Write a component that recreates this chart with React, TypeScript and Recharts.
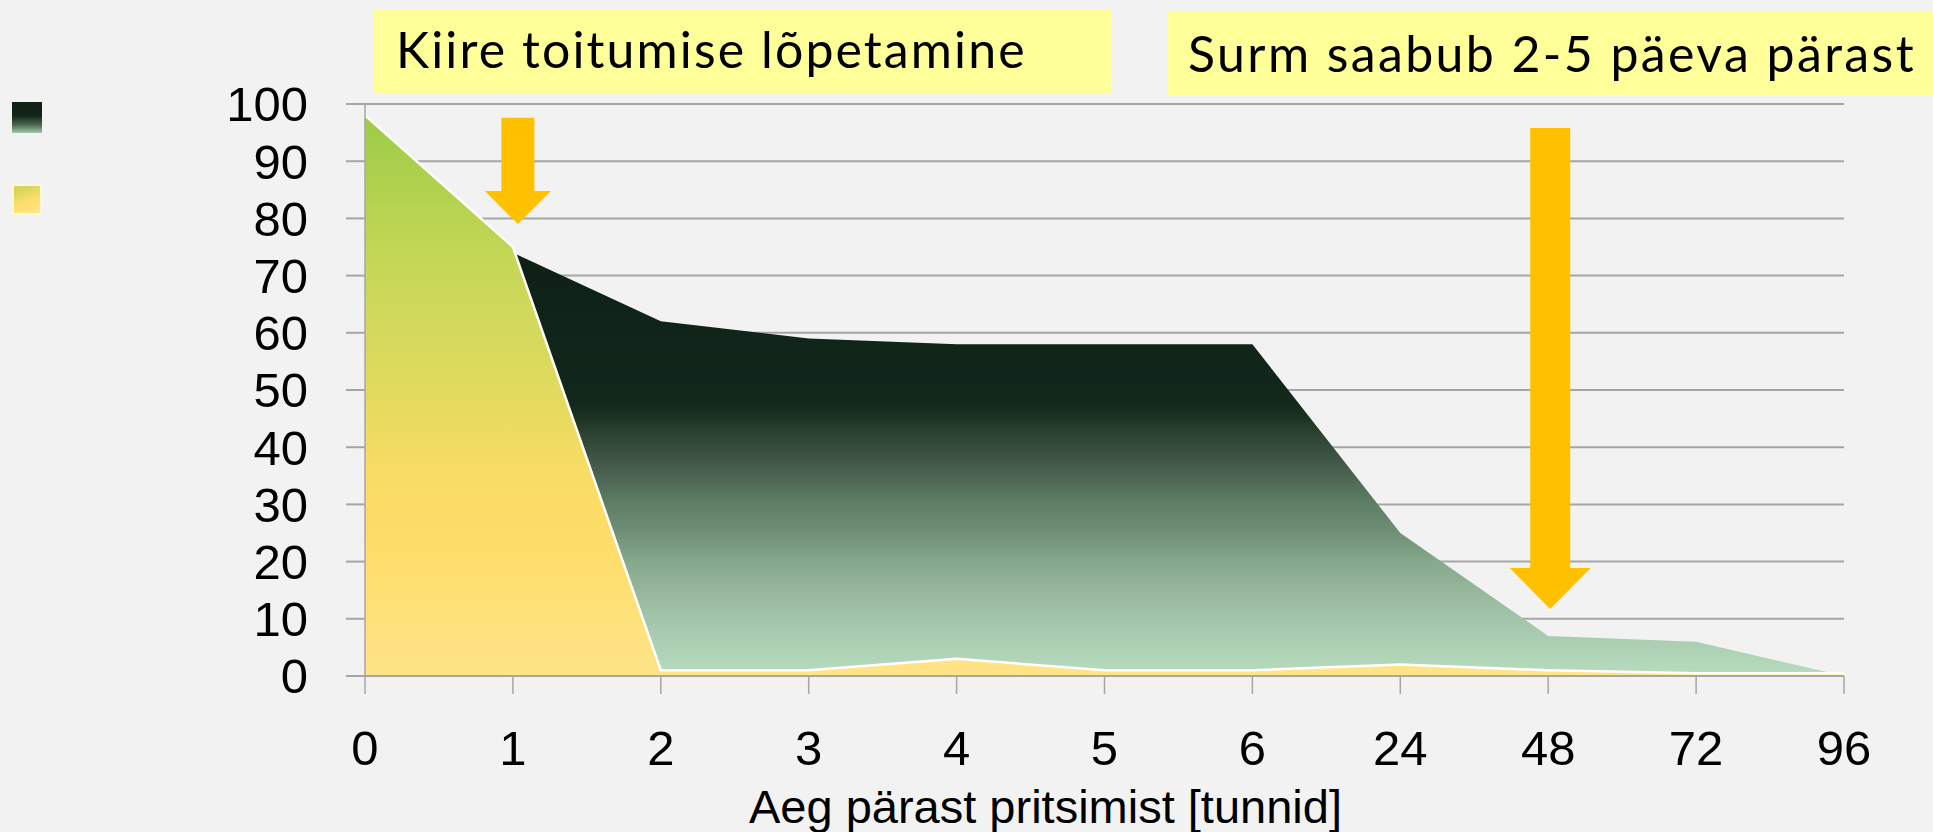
import React from "react";
import { AreaChart, Area, XAxis, YAxis, CartesianGrid, ReferenceLine } from "recharts";

// hours after spraying (category axis, evenly spaced)
const hours = ["0", "1", "2", "3", "4", "5", "6", "24", "48", "72", "96"];
// dark green series (upper area)
const darkShare = [0, 74, 62, 59, 58, 58, 58, 25, 7, 6, 0];
// yellow-green series (front area)
const feedingShare = [98, 75, 1, 1, 3, 1, 1, 2, 1, 0.5, 0.5];
const yTicks = [0, 10, 20, 30, 40, 50, 60, 70, 80, 90, 100];

const axisTitle = "Aeg pärast pritsimist [tunnid]";
const noteStop = "Kiire toitumise lõpetamine";
const noteDeath = "Surm saabub 2-5 päeva pärast";

// arrows: [hour, from value, to value]
const arrowStop = { hour: "1", from: 97.6, to: 79 };
const arrowDeath = { hour: "48", from: 95.8, to: 11.7 };

const GRID = "#a6a6a6";
const ORANGE = "#FFC000";

const rows = hours.map((h, i) => ({
  hour: h,
  dark: darkShare[i],
  feeding: feedingShare[i],
}));

const Arrow = (props: any) => {
  const { x1, y1, y2, shaft, head, headLen, shift = 0 } = props;
  if (x1 == null || y1 == null || y2 == null) return null;
  const x = x1 + shift;
  const neck = y2 - headLen;
  const pts = [
    [x - shaft / 2, y1],
    [x + shaft / 2, y1],
    [x + shaft / 2, neck],
    [x + head / 2, neck],
    [x, y2],
    [x - head / 2, neck],
    [x - shaft / 2, neck],
  ]
    .map((p) => p.join(","))
    .join(" ");
  return <polygon points={pts} fill={ORANGE} />;
};

const AxisTitle = ({ viewBox }: any) => {
  if (!viewBox) return null;
  return (
    <text
      x={viewBox.x + viewBox.width / 2 - 59}
      y={viewBox.y + viewBox.height - 9}
      textAnchor="middle"
      fontFamily="'Liberation Sans', Arial, sans-serif"
      fontSize={47}
      fill="#000"
    >
      {axisTitle}
    </text>
  );
};

const noteStyle: React.CSSProperties = {
  position: "absolute",
  background: "#FFFF99",
  height: 84,
  boxSizing: "border-box",
  fontFamily: "Lato, 'Open Sans', sans-serif",
  fontWeight: 400,
  fontSize: 50,
  lineHeight: "50px",
  color: "#000",
  whiteSpace: "nowrap",
};

export default function App() {
  const tickFont = { fill: "#000", fontSize: 49, fontFamily: "'Liberation Sans', Arial, sans-serif" };
  return (
    <div
      style={{
        position: "absolute",
        left: 0,
        top: 0,
        width: 1933,
        height: 832,
        background: "#F2F2F2",
        overflow: "hidden",
      }}
    >
      <AreaChart
        width={1933}
        height={832}
        data={rows}
        margin={{ top: 104, right: 89, bottom: 0, left: 0 }}
      >
        <defs>
          <linearGradient id="darkFill" x1="0" y1="0" x2="0" y2="1">
            <stop offset="0" stopColor="#0f2017" />
            <stop offset="0.36" stopColor="#12281b" />
            <stop offset="0.43" stopColor="#2b4330" />
            <stop offset="0.5" stopColor="#45594a" />
            <stop offset="0.58" stopColor="#5a7a62" />
            <stop offset="0.66" stopColor="#6f8f76" />
            <stop offset="0.73" stopColor="#86a88c" />
            <stop offset="0.81" stopColor="#98b99d" />
            <stop offset="0.89" stopColor="#a7c9ad" />
            <stop offset="1" stopColor="#b6dcbe" />
          </linearGradient>
          <linearGradient id="feedFill" x1="0" y1="0" x2="0" y2="1">
            <stop offset="0" stopColor="#9ccc48" />
            <stop offset="0.24" stopColor="#c2d655" />
            <stop offset="0.37" stopColor="#d2d95b" />
            <stop offset="0.5" stopColor="#e2da5e" />
            <stop offset="0.63" stopColor="#f8dc64" />
            <stop offset="0.77" stopColor="#fedd6a" />
            <stop offset="1" stopColor="#ffe488" />
          </linearGradient>
        </defs>
        <CartesianGrid vertical={false} stroke={GRID} strokeWidth={2} />
        <XAxis
          dataKey="hour"
          height={156}
          interval={0}
          tickSize={18}
          tickMargin={36}
          tickLine={{ stroke: GRID, strokeWidth: 1.5 }}
          axisLine={{ stroke: GRID, strokeWidth: 2 }}
          tick={tickFont}
          label={<AxisTitle />}
        />
        <YAxis
          width={365}
          domain={[0, 100]}
          ticks={yTicks}
          interval={0}
          tickSize={19}
          tickMargin={38}
          tickLine={{ stroke: GRID, strokeWidth: 2 }}
          axisLine={{ stroke: GRID, strokeWidth: 1.5 }}
          tick={tickFont}
        />
        <Area
          type="linear"
          dataKey="dark"
          stroke="none"
          fill="url(#darkFill)"
          fillOpacity={1}
          isAnimationActive={false}
        />
        <Area
          type="linear"
          dataKey="feeding"
          stroke="#ffffff"
          strokeWidth={2.5}
          fill="url(#feedFill)"
          fillOpacity={1}
          isAnimationActive={false}
        />
        <ReferenceLine
          segment={[
            { x: arrowStop.hour, y: arrowStop.from },
            { x: arrowStop.hour, y: arrowStop.to },
          ]}
          ifOverflow="visible"
          shape={(p: any) => <Arrow {...p} shaft={33} head={66} headLen={33} shift={5} />}
        />
        <ReferenceLine
          segment={[
            { x: arrowDeath.hour, y: arrowDeath.from },
            { x: arrowDeath.hour, y: arrowDeath.to },
          ]}
          ifOverflow="visible"
          shape={(p: any) => <Arrow {...p} shaft={40} head={81} headLen={41} shift={2} />}
        />
      </AreaChart>

      {/* legend swatches, no labels */}
      <div
        style={{
          position: "absolute",
          left: 12,
          top: 102,
          width: 30,
          height: 31,
          background:
            "linear-gradient(180deg, #0f2017 0%, #12251a 45%, #4d6b55 75%, #a3c8aa 100%)",
        }}
      />
      <div
        style={{
          position: "absolute",
          left: 12,
          top: 184,
          width: 30,
          height: 31,
          boxSizing: "border-box",
          border: "2px solid #fff8d8",
          background: "linear-gradient(160deg, #c8d35a 0%, #ffdf6a 60%, #ffe78f 100%)",
        }}
      />

      {/* yellow annotation boxes */}
      <div
        style={{ ...noteStyle, left: 374, top: 9, width: 738, paddingLeft: 22, paddingTop: 15, letterSpacing: 2.1 }}
      >
        {noteStop}
      </div>
      <div
        style={{ ...noteStyle, left: 1167, top: 12, width: 766, paddingLeft: 21, paddingTop: 16, letterSpacing: 2.4 }}
      >
        {noteDeath}
      </div>
    </div>
  );
}
